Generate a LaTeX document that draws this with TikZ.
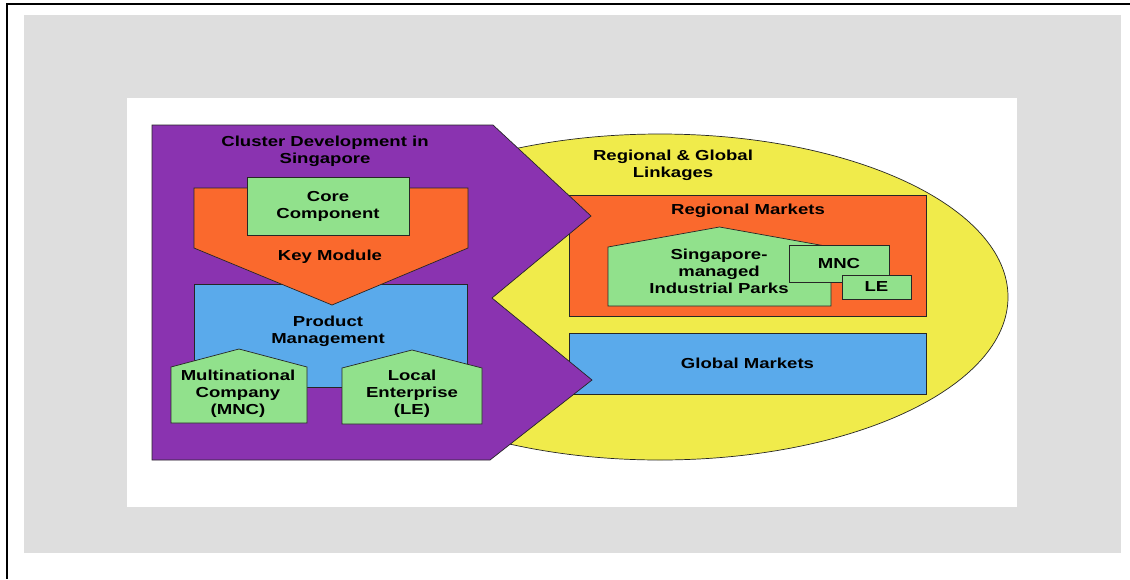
\documentclass[tikz,border=0pt]{standalone}
\usepackage{fontspec}
\newfontfamily\diafont{Liberation Sans}[FakeStretch=1.28]
\definecolor{CDgray}{HTML}{DEDEDE}
\definecolor{CDpurple}{HTML}{8A33B0}
\definecolor{CDorange}{HTML}{FA692D}
\definecolor{CDgreen}{HTML}{91E18C}
\definecolor{CDblue}{HTML}{5AAAEB}
\definecolor{CDyellow}{HTML}{F0EB4B}
\usepackage{tikz}

\tikzset{
  part/.style={draw=black!85, line width=0.7pt},
  lbl/.style={font=\diafont\bfseries\fontsize{14.5}{17}\selectfont, align=center, inner sep=0pt},
  box/.style={part, lbl, fill=CDgreen},
}

\begin{document}
\begin{tikzpicture}[x=1pt,y=-1pt]
  \useasboundingbox (0,0) rectangle (1130,579);
  % page, card and frame lines
  \fill[CDgray] (24,15) rectangle (1121,553);
  \fill[white] (127,98) rectangle (1017,507);
  \draw[line width=2.5pt] (1130,4) -- (7,4) -- (7,579);

  % linkages (right half)
  \draw[part,fill=CDyellow] (660,297) ellipse [x radius=348pt, y radius=163pt];
  \node[lbl] (linkages) at (673,165) {Regional \& Global\\Linkages};
  \draw[part,fill=CDorange] (569,195) rectangle (926,316);
  \node[lbl] (regional) at (748,211) {Regional Markets};
  \draw[part,fill=CDgreen] (608,306) -- (608,247) -- (719.5,227) -- (831,247) -- (831,306) -- cycle;
  \node[lbl] (parks) at (719,271) {Singapore-\\managed\\Industrial Parks};
  \node[box,minimum width=100pt,minimum height=37pt] (mncR) at (839,263.5) {MNC};
  \node[box,minimum width=69pt,minimum height=24pt] (leR) at (876.5,287) {LE};
  \node[box,fill=CDblue,minimum width=357pt,minimum height=61pt] (global) at (747.5,363.5) {Global Markets};

  % cluster (left half)
  \draw[part,fill=CDpurple] (152,125) -- (493,125) -- (591,216) -- (492,298) -- (592,380) -- (490,460) -- (152,460) -- cycle;
  \node[lbl] (cluster) at (325,151) {Cluster Development in\\Singapore};
  \draw[part,fill=CDblue] (194,284) rectangle (467,387);
  \node[lbl] (product) at (328,331) {Product\\Management};
  \draw[part,fill=CDorange] (194,188) -- (468,188) -- (468,248) -- (332,305) -- (194,248) -- cycle;
  \node[lbl] (keymod) at (330,257) {Key Module};
  \node[box,minimum width=162pt,minimum height=58pt] (core) at (328,206) {Core\\Component};
  \draw[part,fill=CDgreen] (171,423) -- (171,367) -- (239,349) -- (307,367) -- (307,423) -- cycle;
  \node[lbl] (mncL) at (238,394) {Multinational\\Company\\(MNC)};
  \draw[part,fill=CDgreen] (342,424) -- (342,368) -- (412,350) -- (482,368) -- (482,424) -- cycle;
  \node[lbl] (leL) at (412,394) {Local\\Enterprise\\(LE)};
\end{tikzpicture}
\end{document}
